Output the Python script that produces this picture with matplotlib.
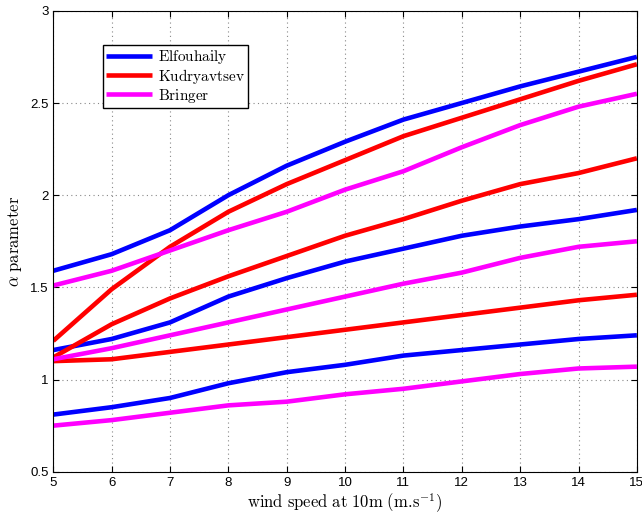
import matplotlib
matplotlib.use("Agg")
import matplotlib.pyplot as plt
import numpy as np

# wind speed (m/s)
wind = [5, 6, 7, 8, 9, 10, 11, 12, 13, 14, 15]

# alpha values, three curves per model
elf_high = [1.59, 1.68, 1.81, 2.00, 2.16, 2.29, 2.41, 2.50, 2.59, 2.67, 2.75]
elf_mid = [1.16, 1.22, 1.31, 1.45, 1.55, 1.64, 1.71, 1.78, 1.83, 1.87, 1.92]
elf_low = [0.81, 0.85, 0.90, 0.98, 1.04, 1.08, 1.13, 1.16, 1.19, 1.22, 1.24]

kud_high = [1.21, 1.49, 1.72, 1.91, 2.06, 2.19, 2.32, 2.42, 2.52, 2.62, 2.71]
kud_mid = [1.12, 1.30, 1.44, 1.56, 1.67, 1.78, 1.87, 1.97, 2.06, 2.12, 2.20]
kud_low = [1.10, 1.11, 1.15, 1.19, 1.23, 1.27, 1.31, 1.35, 1.39, 1.43, 1.46]

bri_high = [1.51, 1.59, 1.70, 1.81, 1.91, 2.03, 2.13, 2.26, 2.38, 2.48, 2.55]
bri_mid = [1.11, 1.17, 1.24, 1.31, 1.38, 1.45, 1.52, 1.58, 1.66, 1.72, 1.75]
bri_low = [0.75, 0.78, 0.82, 0.86, 0.88, 0.92, 0.95, 0.99, 1.03, 1.06, 1.07]

plt.rcParams['mathtext.fontset'] = 'cm'
plt.rcParams['font.family'] = ['Liberation Sans', 'DejaVu Sans']

fig = plt.figure(figsize=(6.42, 5.15), dpi=100)
ax = fig.add_axes([0.083, 0.084, 0.909, 0.895])

lw = 3.3
groups = [
    ("Elfouhaily", "#0000ff", [elf_high, elf_mid, elf_low]),
    ("Kudryavtsev", "#ff0000", [kud_high, kud_mid, kud_low]),
    ("Bringer", "#ff00ff", [bri_high, bri_mid, bri_low]),
]
handles = []
names = []
for name, col, curves in groups:
    for i, c in enumerate(curves):
        l, = ax.plot(wind, c, color=col, lw=lw, solid_capstyle='butt')
        if i == 0:
            handles.append(l)
            names.append(r'$\mathrm{%s}$' % name)

ax.set_xlim(5, 15)
ax.set_ylim(0.5, 3)
ax.set_xticks(np.arange(5, 16, 1))
ax.set_yticks([0.5, 1, 1.5, 2, 2.5, 3])
ax.set_yticklabels(["0.5", "1", "1.5", "2", "2.5", "3"])
ax.tick_params(direction='in', top=True, right=True, labelsize=9.5, length=4)
ax.grid(True, linestyle=(0, (1, 3)), color='#888888', linewidth=0.8)

ax.set_xlabel(r'$\mathrm{wind\ speed\ at\ 10m\ (m.\!s^{-1})}$', fontsize=12, labelpad=2)
ax.set_ylabel(r'$\alpha\ \mathrm{parameter}$', fontsize=12, labelpad=4)

leg = ax.legend(handles, names,
                loc='upper left', bbox_to_anchor=(0.085, 0.926), fontsize=11,
                fancybox=False, framealpha=1, edgecolor='black',
                handlelength=3.0, borderpad=0.2, labelspacing=0.05, handletextpad=0.4,
                borderaxespad=0)
leg.get_frame().set_linewidth(1.0)

fig.savefig("out.png", dpi=100)
